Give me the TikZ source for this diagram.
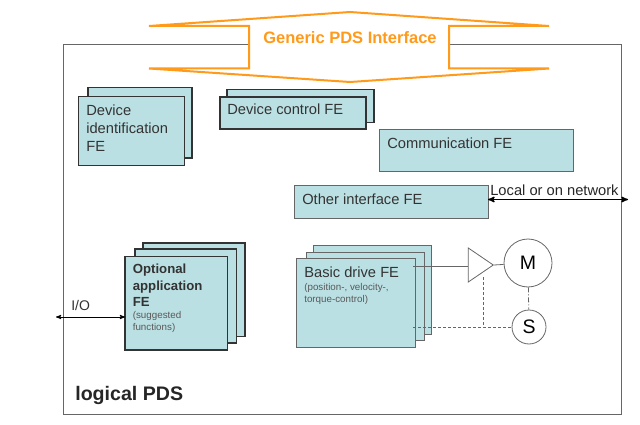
\documentclass[tikz,border=0pt]{standalone}
\usepackage{fontspec}
\setmainfont{Liberation Sans}
\usetikzlibrary{arrows,shapes.geometric}

\definecolor{fefill}{HTML}{BBE0E3}
\definecolor{pdsorange}{HTML}{FF9A1A}
\definecolor{feline}{HTML}{333333}
\definecolor{thinline}{HTML}{666666}

\tikzset{
  febox/.style={draw=feline,line width=1.5pt,fill=fefill,anchor=north west,inner sep=0pt,outer sep=0pt},
  thinbox/.style={draw=thinline,line width=0.9pt,fill=fefill,anchor=north west,inner sep=0pt,outer sep=0pt},
  fetext/.style={anchor=north west,align=left,inner sep=0pt,font=\fontsize{14.7}{18}\selectfont,text=black!80},
  subtext/.style={anchor=north west,align=left,inner sep=0pt,font=\fontsize{9.8}{12.5}\selectfont,text=black!65},
  circ/.style={circle,draw=thinline,line width=0.8pt,fill=white,inner sep=0pt}
}

\begin{document}
\begin{tikzpicture}[x=1pt,y=-1pt,>=stealth',semithick]
  \useasboundingbox (0,0) rectangle (640,425);

  \node[draw=thinline,line width=0.9pt,anchor=north west,minimum width=558pt,minimum height=370pt,inner sep=0pt,outer sep=0pt] (pds) at (63.5,44.5) {};

  \filldraw[draw=pdsorange,fill=white,line width=2pt]
    (149,26) -- (350,12) -- (549,26) -- (449,26) -- (449,68.5) -- (549,68.5)
    -- (350,82) -- (149,68.5) -- (249,68.5) -- (249,26) -- cycle;
  \node[anchor=west,inner sep=0pt,text=pdsorange,font=\bfseries\fontsize{16.5}{18}\selectfont] (title) at (263,37.5) {Generic PDS Interface};

  % device identification
  \node[febox,minimum width=104pt,minimum height=70.5pt] (idback) at (88,87.5) {};
  \node[febox,minimum width=106pt,minimum height=69pt] (idfront) at (78.5,96.5) {};
  \node[fetext] (idtext) at (86,104.5) {Device\\identification\\FE};

  % device control
  \node[febox,minimum width=147pt,minimum height=33pt] (ctrlback) at (227,89.5) {};
  \node[febox,minimum width=146pt,minimum height=32pt] (ctrlfront) at (220,97) {};
  \node[fetext] (ctrltext) at (227,104) {Device control FE};

  % communication, other interface
  \node[thinbox,minimum width=193.5pt,minimum height=41.5pt] (comm) at (379.5,129.5) {};
  \node[fetext] (commtext) at (387,137.5) {Communication FE};
  \node[thinbox,minimum width=194pt,minimum height=32.5pt] (other) at (294,185.5) {};
  \node[fetext] (othertext) at (302,193.5) {Other interface FE};

  \coordinate (netend) at (628,199.5);
  \path[<->,line width=1.3pt] (other.east |- netend) edge (netend);
  \node[fetext,anchor=west,text=black!85] (nettext) at (490,190) {Local or on network};

  % optional application
  \node[febox,minimum width=102pt,minimum height=93.5pt] (optback) at (143,243) {};
  \node[febox,minimum width=101.5pt,minimum height=94pt] (optmid) at (135,249) {};
  \node[febox,minimum width=102.5pt,minimum height=93.5pt] (optfront) at (125,256.5) {};
  \node[fetext,font=\bfseries\fontsize{13.2}{16.5}\selectfont] (opttext) at (132.5,264) {Optional\\application\\FE};
  \node[subtext] (optsub) at (132.5,311) {(suggested\\functions)};

  \coordinate (ioend) at (56,317);
  \path[<->,line width=0.9pt] (ioend) edge (optfront.west |- ioend);
  \node[fetext,anchor=west,font=\fontsize{14}{16}\selectfont] (iotext) at (71,305) {I/O};

  \node[anchor=west,inner sep=0pt,text=black!85,font=\bfseries\fontsize{19.6}{22}\selectfont] (logical) at (75,395) {logical PDS};

  % basic drive
  \node[thinbox,minimum width=118.5pt,minimum height=89pt] (drvback) at (313,245) {};
  \node[thinbox,minimum width=118pt,minimum height=88pt] (drvmid) at (306,252) {};
  \node[thinbox,minimum width=119pt,minimum height=89pt] (drvfront) at (296,258) {};
  \node[fetext] (drvtext) at (304,267) {Basic drive FE};
  \node[subtext] (drvsub) at (304,283) {(position-, velocity-,\\torque-control)};

  \node[isosceles triangle,isosceles triangle apex angle=68,isosceles triangle stretches,draw=thinline,line width=0.8pt,fill=white,inner sep=0pt,minimum width=34pt,minimum height=25pt,anchor=apex] (amp) at (494,265) {};
  \node[circ,minimum size=48pt] (motor) at (528,263) {\fontsize{19.5}{22}\selectfont M};
  \node[circ,minimum size=34pt] (sensor) at (529,327) {\fontsize{19.5}{22}\selectfont S};

  \coordinate (drvout) at (413,266);
  \coordinate (drvin) at (413,327);
  \coordinate (ampfb) at (483,277);
  \coordinate (fbjoin) at (483,327);

  \path[draw=thinline,line width=0.8pt] (drvout) edge (amp.west |- drvout)
        (amp.apex) edge (motor);
  \path[draw=thinline,line width=0.8pt,dash pattern=on 5pt off 2pt on 1pt off 2pt] (motor) edge (sensor);
  \path[draw=thinline,line width=0.9pt,densely dashed] (drvin) edge (sensor)
        (ampfb) edge (fbjoin);
\end{tikzpicture}
\end{document}
